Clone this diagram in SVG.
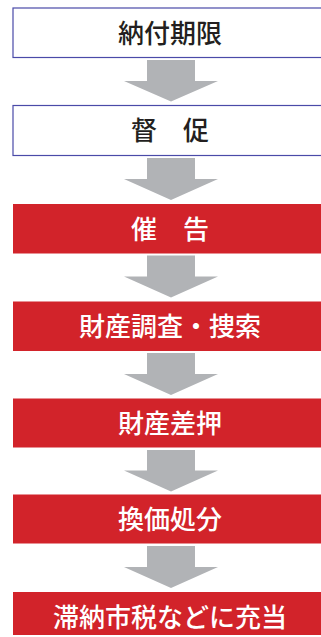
<svg xmlns="http://www.w3.org/2000/svg" width="321" height="637" viewBox="0 0 321 637">
<style>
.w{fill:#ffffff;stroke:#4a4aa8;stroke-width:1.2}
.r{fill:#d2232a}
.a{fill:#b1b3b6}
text{font-family:"Noto Sans CJK JP","Noto Sans",sans-serif;font-size:26px;font-weight:500;text-anchor:middle}
.tw{fill:#231f20}
.tr{fill:#ffffff}
</style>
<rect width="321" height="637" fill="#ffffff"/>
<g id="connectors">
<polygon class="a" points="147,60 195,60 195,81 218,81 171,101.5 124,81 147,81"/>
<polygon class="a" points="147,158 195,158 195,179 218,179 171,200 124,179 147,179"/>
<polygon class="a" points="147,255.5 195,255.5 195,276.5 218,276.5 171,297.5 124,276.5 147,276.5"/>
<polygon class="a" points="147,353 195,353 195,374 218,374 171,395 124,374 147,374"/>
<polygon class="a" points="147,450 195,450 195,470.5 218,470.5 171,491.5 124,470.5 147,470.5"/>
<polygon class="a" points="147,546 195,546 195,567 218,567 171,588 124,567 147,567"/>
</g>
<g id="n1"><rect class="w" x="13" y="8" width="320" height="49.5"/><text class="tw" x="170" y="42.5">納付期限</text></g>
<g id="n2"><rect class="w" x="13" y="105.5" width="320" height="50"/><text class="tw" x="170" y="140">督　促</text></g>
<g id="n3"><rect class="r" x="13" y="204" width="320" height="49.5"/><text class="tr" x="170" y="238.5">催　告</text></g>
<g id="n4"><rect class="r" x="13" y="301.5" width="320" height="49.5"/><text class="tr" x="170" y="336">財産調査・捜索</text></g>
<g id="n5"><rect class="r" x="13" y="398.5" width="320" height="49"/><text class="tr" x="170" y="433">財産差押</text></g>
<g id="n6"><rect class="r" x="13" y="494.5" width="320" height="49"/><text class="tr" x="170" y="529">換価処分</text></g>
<g id="n7"><rect class="r" x="13" y="592" width="320" height="43"/><text class="tr" x="170" y="626.5">滞納市税などに充当</text></g>
</svg>
